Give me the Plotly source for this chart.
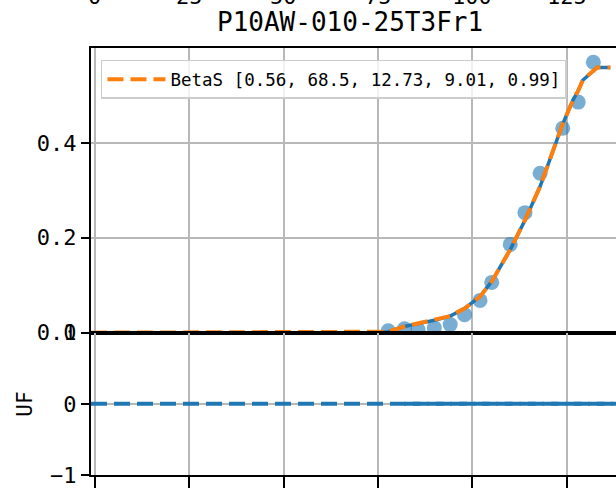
import plotly.graph_objects as go

# ---- data ----
obs_x = [77.7, 82.0, 85.6, 89.9, 94.1, 97.9, 102.0, 105.1, 110.0, 113.9, 117.9, 123.9, 128.0, 132.0]
obs_y = [0.004, 0.008, 0.006, 0.010, 0.017, 0.038, 0.068, 0.106, 0.186, 0.253, 0.336, 0.431, 0.486, 0.570]

fit_x = [-1.0, 75.5, 77.7, 82.0, 85.6, 89.9, 94.1, 97.9, 102.0, 105.1, 110.0, 113.9, 117.9,
         121.4, 123.9, 126.6, 128.0, 129.2, 132.0, 133.0, 136.5]
fit_y = [0.0, 0.0, 0.002, 0.013, 0.019, 0.026, 0.035, 0.051, 0.076, 0.108, 0.175, 0.237, 0.308,
         0.385, 0.440, 0.490, 0.510, 0.532, 0.553, 0.559, 0.559]

uf_full_x = [-1.0, 140.0]
uf_full_y = [0.0, 0.0]
uf_obs_x = [82.0, 140.0]
uf_obs_y = [0.0, 0.0]

legend_label = "BetaS [0.56, 68.5, 12.73, 9.01, 0.99]"
title_text = "P10AW-010-25T3Fr1"
x_ticks = [0, 25, 50, 75, 100, 125]
main_ticks = [0.0, 0.2, 0.4]
main_ticktext = ["0.0", "0.2", "0.4"]
uf_ticks = [-1, 0, 1]
uf_ticktext = ["\u22121", "0", "1"]

BLUE = "#1f77b4"
ORANGE = "#ff7f0e"
FONT = "DejaVu Sans Mono"
GRID = "#b8b8b8"

fig = go.Figure()

# main panel
fig.add_trace(go.Scatter(x=obs_x, y=obs_y, mode="markers", xaxis="x", yaxis="y",
                         marker=dict(size=15, color=BLUE, opacity=0.6, line=dict(width=0)),
                         showlegend=False, cliponaxis=True))
fig.add_trace(go.Scatter(x=fit_x, y=fit_y, mode="lines", xaxis="x", yaxis="y",
                         line=dict(color=BLUE, width=3.5), showlegend=False))
fig.add_trace(go.Scatter(x=fit_x, y=fit_y, mode="lines", xaxis="x", yaxis="y",
                         line=dict(color=ORANGE, width=4, dash="16px,7px"),
                         name=legend_label, showlegend=True))

# lower panel
fig.add_trace(go.Scatter(x=uf_full_x, y=uf_full_y, mode="lines", xaxis="x2", yaxis="y2",
                         line=dict(color=BLUE, width=4, dash="16px,7px"), showlegend=False))
fig.add_trace(go.Scatter(x=uf_obs_x, y=uf_obs_y, mode="lines", xaxis="x2", yaxis="y2",
                         line=dict(color=BLUE, width=4, dash="16px,7px"), showlegend=False))

split = 143 / 429
xr = [-1.0, 138.0]

common_x = dict(range=xr, tickvals=x_ticks, showgrid=True, gridcolor=GRID, gridwidth=2,
                showline=True, linecolor="black", linewidth=2, mirror=True, zeroline=False)

fig.update_layout(
    width=616, height=488,
    margin=dict(l=91, r=0, t=48, b=11),
    paper_bgcolor="white", plot_bgcolor="white",
    font=dict(family=FONT, size=22, color="black"),
    xaxis=dict(**common_x, anchor="y", showticklabels=False, ticks=""),
    xaxis2=dict(**common_x, anchor="y2", matches="x", showticklabels=False,
                ticks="outside", ticklen=11, tickwidth=2, tickcolor="black"),
    yaxis=dict(domain=[split, 1], range=[0, 0.6], tickvals=main_ticks, ticktext=main_ticktext,
               showgrid=True, gridcolor=GRID, gridwidth=2, zeroline=False,
               showline=True, linecolor="black", linewidth=2, ticks="outside",
               ticklen=8, tickwidth=2, tickcolor="black", tickfont=dict(size=22)),
    yaxis2=dict(domain=[0, split], range=[-1, 1], tickvals=uf_ticks, ticktext=uf_ticktext,
                showgrid=True, gridcolor=GRID, gridwidth=2, zeroline=False,
                showline=True, linecolor="black", linewidth=2, ticks="outside",
                ticklen=8, tickwidth=2, tickcolor="black", tickfont=dict(size=22)),
    legend=dict(x=0.019, y=0.972, xanchor="left", yanchor="top", itemwidth=58,
                bgcolor="rgba(255,255,255,0.8)", bordercolor="#cccccc", borderwidth=1.5,
                font=dict(family=FONT, size=17.5)),
    showlegend=True,
)

annotations = [
    dict(text=title_text, xref="paper", yref="paper", x=0.493, y=1.02, xanchor="center",
         yanchor="bottom", showarrow=False, font=dict(family=FONT, size=26)),
    dict(text="UF", xref="paper", yref="paper", x=-0.126, y=split / 2, xanchor="center",
         yanchor="middle", showarrow=False, textangle=-90, font=dict(family=FONT, size=21)),
]
for t in x_ticks:
    annotations.append(dict(text=str(t), xref="x", yref="paper", x=t, y=1.087, xanchor="center",
                            yanchor="bottom", showarrow=False, font=dict(family=FONT, size=22)))
fig.update_layout(annotations=annotations)

fig.write_html("out.html", config={"displayModeBar": False},
               post_script="document.body.style.margin='0';document.body.style.padding='0';")
